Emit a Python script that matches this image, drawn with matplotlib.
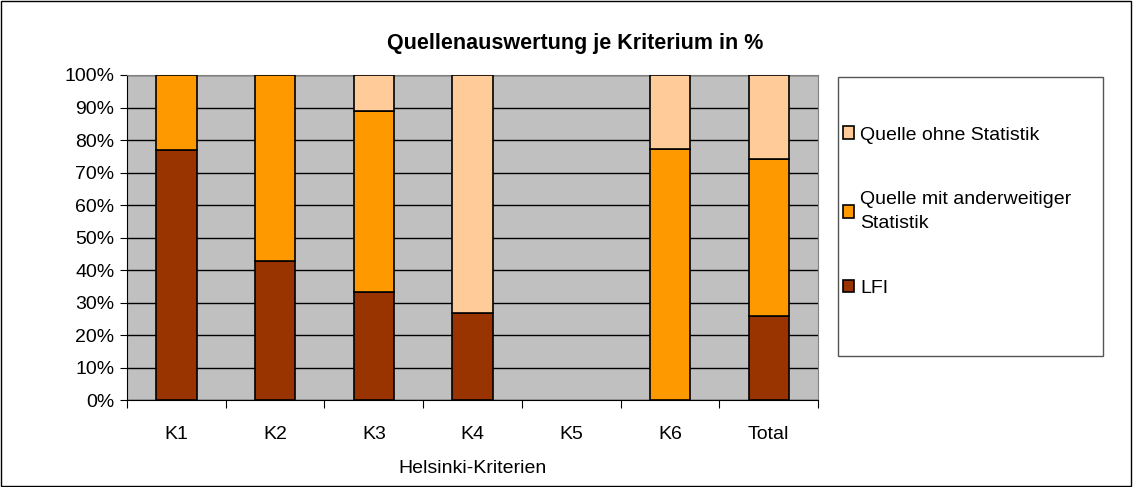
import matplotlib.pyplot as plt
import numpy as np
from matplotlib.patches import Rectangle

plt.rcParams['font.family'] = ['Liberation Sans', 'DejaVu Sans']

criteria = ['K1', 'K2', 'K3', 'K4', 'K5', 'K6', 'Total']
lfi = [76.9, 42.9, 33.3, 26.7, 0, 0, 25.9]
other_stat = [23.1, 57.1, 55.6, 0, 0, 77.3, 48.2]
no_stat = [0, 0, 11.1, 73.3, 0, 22.7, 25.9]
series_labels = ['LFI', 'Quelle mit anderweitiger\nStatistik', 'Quelle ohne Statistik']
colors = ['#993300', '#FF9900', '#FFCC99']

fs = 14

fig = plt.figure(figsize=(11.33, 4.87), dpi=100)
ax = fig.add_axes([0.1121, 0.1786, 0.6100, 0.6674])
ax.set_facecolor('#C0C0C0')

x = np.arange(len(criteria))
w = 0.41
handles = []
bottom = np.zeros(len(criteria))
for vals, lab, col in zip([lfi, other_stat, no_stat], series_labels, colors):
    vals = np.array(vals, dtype=float)
    # skip empty segments so no zero-height outlines are drawn
    h = ax.bar(x[vals > 0], vals[vals > 0], w, bottom=bottom[vals > 0],
               color=col, edgecolor='black', linewidth=1.2, label=lab, zorder=3)
    handles.append(h)
    bottom += vals

ax.set_xlim(-0.5, len(criteria) - 0.5)
ax.set_ylim(0, 100)
ax.set_yticks(np.arange(0, 101, 10))
ax.set_yticklabels([f'{v}%' for v in range(0, 101, 10)], fontsize=fs)
ax.yaxis.grid(True, color='black', linewidth=1, zorder=0)
ax.set_axisbelow(True)

ax.set_xticks(np.arange(-0.5, len(criteria), 1))
ax.set_xticklabels([])
ax.set_xticks(x, minor=True)
ax.set_xticklabels(criteria, minor=True, fontsize=fs)
ax.tick_params(axis='x', which='major', length=6, direction='out', color='black')
ax.tick_params(axis='x', which='minor', length=0, pad=19)
ax.tick_params(axis='y', length=5, color='black', pad=4)

for s in ['top', 'right']:
    ax.spines[s].set_color('#808080')
for s in ['left', 'bottom']:
    ax.spines[s].set_color('black')

ax.set_xlabel('Helsinki-Kriterien', fontsize=fs, labelpad=12)
fig.text(575 / 1133, 1 - 43 / 487, 'Quellenauswertung je Kriterium in %',
         ha='center', va='center', fontsize=15.5, fontweight='bold')

# legend frame
fig.patches.append(Rectangle((838 / 1133, 1 - 356 / 487), 265 / 1133, 279 / 487,
                             transform=fig.transFigure, facecolor='white',
                             edgecolor='#555555', linewidth=1))
leg = fig.legend(handles[::-1], series_labels[::-1], loc='upper left',
                 bbox_to_anchor=(825 / 1133, 1 - 109 / 487), frameon=False,
                 fontsize=fs, handlelength=0.6, handleheight=0.6,
                 handletextpad=0.3, labelspacing=2.45)
for t in leg.get_texts():
    t.set_linespacing(1.55)

# outer border
fig.patches.append(Rectangle((0.001, 0.002), 0.997, 0.996, transform=fig.transFigure,
                             fill=False, edgecolor='black', linewidth=1))

fig.savefig('out.png', dpi=100)
